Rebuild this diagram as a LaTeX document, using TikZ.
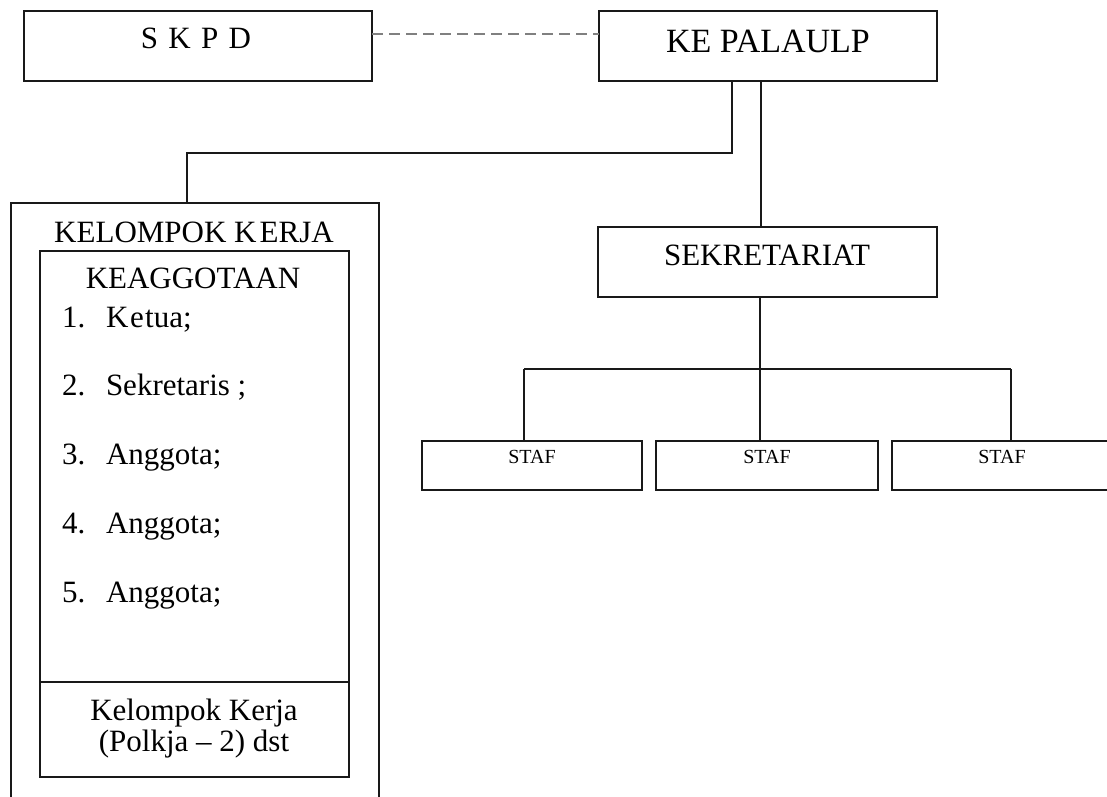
\documentclass[tikz,border=0pt]{standalone}
\usepackage{fontspec}
\setmainfont{Liberation Serif}
\begin{document}
\begin{tikzpicture}[x=1pt,y=-1pt,line join=miter,
  box/.style={draw=black!90,line width=2.2pt,inner sep=0pt,outer sep=0pt},
  conn/.style={draw=black!90,line width=2pt},
  dashline/.style={draw=black!50,line width=1.2pt,dash pattern=on 11pt off 6pt},
  txt/.style={anchor=base,inner sep=0pt,outer sep=0pt},
  big/.style={font=\fontsize{31pt}{33pt}\selectfont},
  huge/.style={font=\fontsize{34pt}{36pt}\selectfont},
  small/.style={font=\fontsize{20pt}{22pt}\selectfont}]
\clip (0,0) rectangle (1107,796);
\fill[white] (0,0) rectangle (1107,796);

% top boxes
\node[box,minimum width=348pt,minimum height=70pt] (skpd) at (198,46) {};
\node[txt,big] (skpdT) at (196,48) {S\,\,K\,\,P\,\,D};
\node[box,minimum width=338pt,minimum height=70pt] (kepala) at (768,46) {};
\node[txt,huge] (kepalaT) at (768,52) {KE PALAULP};

\coordinate (dY) at (0,34);
\draw[dashline] (skpd.east |- dY) -- (kepala.west |- dY);

% sekretariat
\node[box,minimum width=339pt,minimum height=70pt] (sek) at (767.5,262) {};
\node[txt,big] (sekT) at (767,265) {SEKRETARIAT};

% staf
\node[box,minimum width=220pt,minimum height=49pt] (staf1) at (532,465.5) {};
\node[box,minimum width=222pt,minimum height=49pt] (staf2) at (767,465.5) {};
\node[box,minimum width=220pt,minimum height=49pt] (staf3) at (1002,465.5) {};
\node[txt,small] (staf1T) at (532,463) {STAF};
\node[txt,small] (staf2T) at (767,463) {STAF};
\node[txt,small] (staf3T) at (1002,463) {STAF};

% kelompok kerja
\node[box,minimum width=368pt,minimum height=617pt] (kel) at (195,511.5) {};
\node[box,minimum width=309pt,minimum height=526pt] (inner) at (194.5,514) {};
\coordinate (div) at (0,682);
\draw[box] (inner.west |- div) -- (inner.east |- div);

\node[txt,big] (kelT) at (194,242) {KELOMPOK K\hspace{0.1em}ERJA};
\node[txt,big] (keaT) at (193,288) {KEAGGOTAAN};

\node[txt,big,anchor=base west] (n1) at (62,327) {1.};
\node[txt,big,anchor=base west] (i1) at (106,327) {K\hspace{0.06em}e\hspace{0.04em}tua;};
\node[txt,big,anchor=base west] (n2) at (62,395) {2.};
\node[txt,big,anchor=base west] (i2) at (106,395) {Sekretaris ;};
\node[txt,big,anchor=base west] (n3) at (62,464) {3.};
\node[txt,big,anchor=base west] (i3) at (106,464) {Anggota;};
\node[txt,big,anchor=base west] (n4) at (62,533) {4.};
\node[txt,big,anchor=base west] (i4) at (106,533) {Anggota;};
\node[txt,big,anchor=base west] (n5) at (62,602) {5.};
\node[txt,big,anchor=base west] (i5) at (106,602) {Anggota;};

\node[txt,big] (polT1) at (194,720) {Kelompok Kerja};
\node[txt,big] (polT2) at (194,751) {(Polkja -- 2) dst};

% connectors
\coordinate (kL) at (732,153);
\coordinate (kC) at (187,153);
\draw[conn] (kepala.south -| kL) -- (kL) -- (kC) -- (kel.north -| kC);
\coordinate (kR) at (761,0);
\draw[conn] (kepala.south -| kR) -- (sek.north -| kR);

\coordinate (sB) at (760,369);
\coordinate (sL) at (524,369);
\coordinate (sR) at (1011,369);
\draw[conn] (sek.south -| sB) -- (sB);
\draw[conn] (sL) -- (sR);
\draw[conn] (sL) -- (staf1.north -| sL);
\draw[conn] (sB) -- (staf2.north -| sB);
\draw[conn] (sR) -- (staf3.north -| sR);
\end{tikzpicture}
\end{document}
